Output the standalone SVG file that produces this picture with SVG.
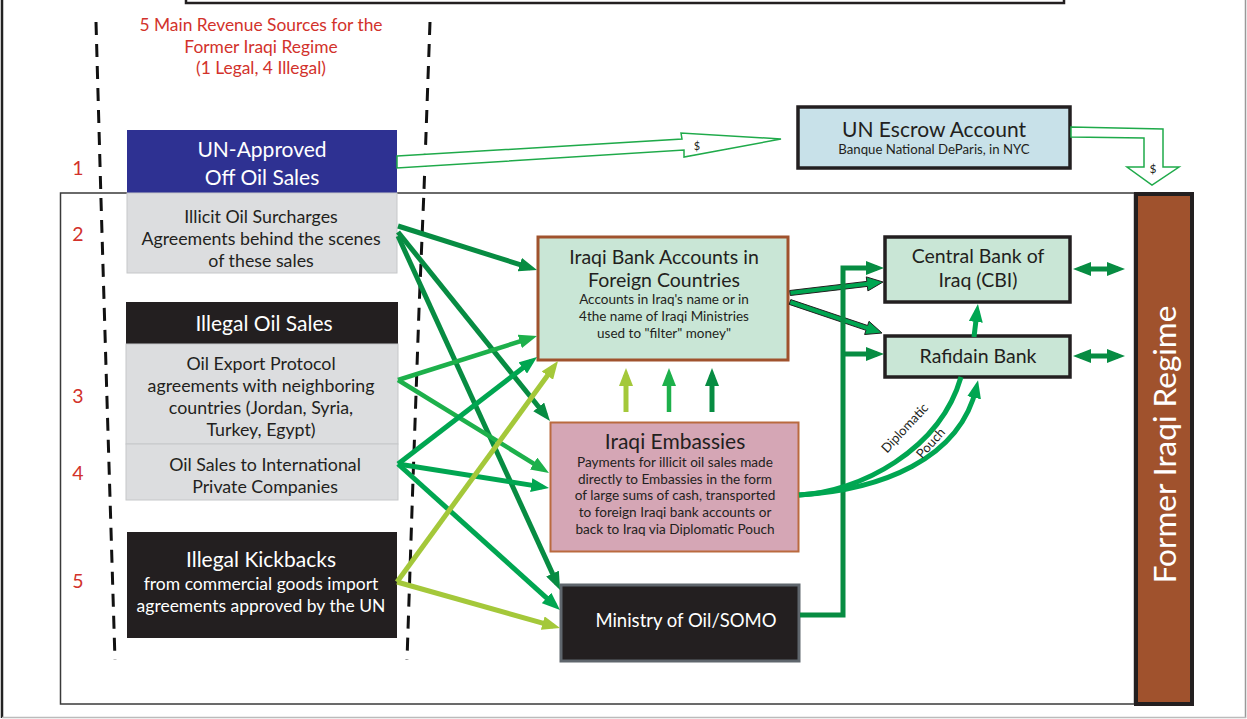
<svg xmlns="http://www.w3.org/2000/svg" width="1247" height="719" viewBox="0 0 1247 719">
<style>
text{font-family:Lato,"Open Sans","Liberation Sans",sans-serif;text-anchor:middle}
.red{fill:#D2322B}
.dk{fill:#231F20}
.wh{fill:#FFFFFF}
.num{font-size:19.5px;fill:#D2322B}
.body{font-size:17.8px;fill:#231F20}
.big{font-size:21px}
.gray{fill:#DCDDDF;stroke:#C6C7C9;stroke-width:1}
.blk{fill:#231F20}
.mint{fill:#C9E6D6}
.dash{fill:none;stroke:#111;stroke-width:3;stroke-dasharray:13 9}
.c-dk{fill:none;stroke:#078C42;stroke-width:5}
.c-md{fill:none;stroke:#00A651;stroke-width:5}
.c-lt{fill:none;stroke:#1DB04B;stroke-width:4.5}
.c-yg{fill:none;stroke:#A4C83A;stroke-width:5}
.hollow{fill:#FFFFFF;stroke:#1FAA4A;stroke-width:1.5}
</style>
<defs>
<marker id="m-dk" viewBox="0 0 18 14" refX="11" refY="7" markerWidth="18" markerHeight="14" markerUnits="userSpaceOnUse" orient="auto-start-reverse"><path d="M0,0 L18,7 L0,14 z" fill="#078C42"/></marker>
<marker id="m-md" viewBox="0 0 18 14" refX="11" refY="7" markerWidth="18" markerHeight="14" markerUnits="userSpaceOnUse" orient="auto"><path d="M0,0 L18,7 L0,14 z" fill="#00A651"/></marker>
<marker id="m-lt" viewBox="0 0 18 14" refX="11" refY="7" markerWidth="18" markerHeight="14" markerUnits="userSpaceOnUse" orient="auto"><path d="M0,0 L18,7 L0,14 z" fill="#1DB04B"/></marker>
<marker id="m-yg" viewBox="0 0 18 14" refX="11" refY="7" markerWidth="18" markerHeight="14" markerUnits="userSpaceOnUse" orient="auto"><path d="M0,0 L18,7 L0,14 z" fill="#A4C83A"/></marker>
</defs>
<rect width="1247" height="719" fill="#FFFFFF"/>
<g id="frame">
<line x1="2" y1="0" x2="2" y2="718" stroke="#222" stroke-width="2.5"/>
<line x1="1245.5" y1="0" x2="1245.5" y2="718" stroke="#999" stroke-width="1.5"/>
<line x1="2" y1="717.5" x2="1246" y2="717.5" stroke="#BBB" stroke-width="1.5"/>
<rect x="186" y="-30" width="878" height="33" fill="none" stroke="#231F20" stroke-width="2.5"/>
<rect x="60.5" y="193" width="1074" height="511" fill="none" stroke="#3A3A3A" stroke-width="1.5"/>
</g>
<g id="title">
<text class="red" font-size="17.4" x="261" y="31">5 Main Revenue Sources for the</text>
<text class="red" font-size="17.4" x="261" y="53">Former Iraqi Regime</text>
<text class="red" font-size="17.4" x="261" y="74">(1 Legal, 4 Illegal)</text>
<text class="num" x="78" y="175">1</text>
<text class="num" x="78" y="241">2</text>
<text class="num" x="78" y="403">3</text>
<text class="num" x="78" y="480">4</text>
<text class="num" x="78" y="588">5</text>
</g>
<g id="dividers">
<path class="dash" d="M96,22 L101,200 L107,400 L115,660"/>
<path class="dash" d="M430,22 L424,190 L419,310 L413,480 L407,660"/>
</g>
<g id="un-approved">
<rect x="127" y="130" width="270" height="63" fill="#2E3192"/>
<text class="wh big" x="262" y="157">UN-Approved</text>
<text class="wh big" x="262" y="185">Off Oil Sales</text>
</g>
<g id="surcharges">
<rect class="gray" x="127" y="193" width="270" height="80"/>
<text class="body" x="261" y="223">Illicit Oil Surcharges</text>
<text class="body" x="261" y="245">Agreements behind the scenes</text>
<text class="body" x="261" y="267">of these sales</text>
</g>
<g id="illegal-oil-sales">
<rect class="blk" x="126" y="302" width="272" height="42"/>
<text class="wh" font-size="21" x="264" y="331">Illegal Oil Sales</text>
</g>
<g id="export-protocol">
<rect class="gray" x="126" y="344" width="272" height="100"/>
<text class="body" x="261" y="370">Oil Export Protocol</text>
<text class="body" x="261" y="392">agreements with neighboring</text>
<text class="body" x="261" y="414">countries (Jordan, Syria,</text>
<text class="body" x="261" y="436">Turkey, Egypt)</text>
</g>
<g id="intl-sales">
<rect class="gray" x="126" y="444" width="272" height="56"/>
<text class="body" x="265" y="471">Oil Sales to International</text>
<text class="body" x="265" y="493">Private Companies</text>
</g>
<g id="kickbacks">
<rect class="blk" x="127" y="532" width="270" height="106"/>
<text class="wh big" x="261" y="567">Illegal Kickbacks</text>
<text class="wh" font-size="17.5" x="261" y="590">from commercial goods import</text>
<text class="wh" font-size="17.5" x="261" y="612">agreements approved by the UN</text>
</g>
<g id="escrow">
<rect x="798" y="107" width="272" height="61" fill="#C8E1E9" stroke="#231F20" stroke-width="3.5"/>
<text class="dk big" x="934" y="137">UN Escrow Account</text>
<text class="dk" font-size="13.2" x="934" y="154">Banque National DeParis, in NYC</text>
</g>
<g id="bank-accounts">
<rect class="mint" x="538" y="237" width="250" height="123" stroke="#A0522D" stroke-width="3"/>
<text class="dk" font-size="19.5" x="664" y="264">Iraqi Bank Accounts in</text>
<text class="dk" font-size="19.5" x="664" y="287">Foreign Countries</text>
<text class="dk" font-size="13.5" x="664" y="304">Accounts in Iraq's name or in</text>
<text class="dk" font-size="13.5" x="664" y="321">4the name of Iraqi Ministries</text>
<text class="dk" font-size="13.5" x="664" y="338">used to "filter" money"</text>
</g>
<g id="embassies">
<rect x="550.5" y="422.5" width="248" height="129" fill="#D5A6B5" stroke="#BA6A3F" stroke-width="2"/>
<text class="dk" font-size="21" x="675" y="448.5">Iraqi Embassies</text>
<text class="dk" font-size="13.6" x="675" y="467">Payments for illicit oil sales made</text>
<text class="dk" font-size="13.6" x="675" y="483.7">directly to Embassies in the form</text>
<text class="dk" font-size="13.6" x="675" y="500.4">of large sums of cash, transported</text>
<text class="dk" font-size="13.6" x="675" y="517.1">to foreign Iraqi bank accounts or</text>
<text class="dk" font-size="13.6" x="675" y="533.8">back to Iraq via Diplomatic Pouch</text>
</g>
<g id="ministry">
<rect x="561" y="585" width="238" height="76" fill="#231F20" stroke="#5F666D" stroke-width="3"/>
<text class="wh" font-size="18.5" x="686" y="627">Ministry of Oil/SOMO</text>
</g>
<g id="central-bank">
<rect class="mint" x="885" y="237" width="185" height="65" stroke="#231F20" stroke-width="3.5"/>
<text class="dk" font-size="19.5" x="978" y="263">Central Bank of</text>
<text class="dk" font-size="19.5" x="978" y="287">Iraq (CBI)</text>
</g>
<g id="rafidain">
<rect class="mint" x="885" y="336" width="185" height="41" stroke="#231F20" stroke-width="3.5"/>
<text class="dk" font-size="19.5" x="978" y="363">Rafidain Bank</text>
</g>
<g id="former-regime">
<rect x="1136" y="194" width="56" height="510" fill="#A0522D" stroke="#231F20" stroke-width="4"/>
<text class="wh" font-size="31.5" transform="translate(1176,444.5) rotate(-90)" x="0" y="0">Former Iraqi Regime</text>
</g>
<g id="connectors">
<polygon class="hollow" points="397,156 682,139 681,133 781,139 684,157 684,150 397,168"/>
<text class="dk" font-size="11" x="697" y="150">$</text>
<polygon class="hollow" points="1071,127 1163,129 1163,167 1179,167 1152,185 1127,167 1144,167 1144,138 1071,137"/>
<text class="dk" font-size="12" x="1153" y="173">$</text>
<line class="c-dk" x1="398" y1="226" x2="530.3" y2="267.9" marker-end="url(#m-dk)"/>
<line class="c-dk" x1="398" y1="232" x2="545.6" y2="415.5" marker-end="url(#m-dk)"/>
<line class="c-dk" x1="398" y1="236" x2="557.1" y2="583.6" marker-end="url(#m-dk)"/>
<line class="c-lt" x1="398" y1="380" x2="530.3" y2="338.1" marker-end="url(#m-lt)"/>
<line class="c-lt" x1="398" y1="380" x2="543" y2="469.3" marker-end="url(#m-lt)"/>
<line class="c-md" x1="398" y1="464" x2="531.5" y2="361.3" marker-end="url(#m-md)"/>
<line class="c-md" x1="398" y1="464" x2="542.1" y2="486.9" marker-end="url(#m-md)"/>
<line class="c-md" x1="398" y1="464" x2="554.8" y2="605.3" marker-end="url(#m-md)"/>
<line class="c-yg" x1="397" y1="582" x2="553.9" y2="366.7" marker-end="url(#m-yg)"/>
<line class="c-yg" x1="397" y1="582" x2="553.3" y2="626.1" marker-end="url(#m-yg)"/>
<line class="c-yg" x1="626" y1="412" x2="626" y2="375" marker-end="url(#m-yg)"/>
<line class="c-lt" x1="669" y1="412" x2="669" y2="375" marker-end="url(#m-lt)"/>
<line class="c-dk" x1="712" y1="412" x2="712" y2="375" marker-end="url(#m-dk)"/>
<polygon points="789.7,290.5 866.8,281.4 866.3,276.9 883,282 867.9,290.9 867.4,286.4 790.3,295.5" fill="#00A651" stroke="#231F20" stroke-width="1"/>
<polygon points="790.8,299.6 867.6,325.5 869,321.3 882,333 864.6,334.5 866,330.3 789.2,304.4" fill="#00A651" stroke="#231F20" stroke-width="1"/>
<path class="c-dk" stroke-linejoin="miter" d="M800,615 H843 V268 H877" marker-end="url(#m-dk)"/>
<path class="c-dk" d="M843,354 H877" marker-end="url(#m-dk)"/>
<line class="c-dk" x1="1080" y1="269" x2="1118" y2="269" marker-start="url(#m-dk)" marker-end="url(#m-dk)"/>
<line class="c-dk" x1="1080" y1="356" x2="1118" y2="356" marker-start="url(#m-dk)" marker-end="url(#m-dk)"/>
<path class="c-md" d="M799,495 C860,492 940,450 961,377"/>
<path class="c-md" d="M799,495 C880,490 960,460 976.5,387" marker-end="url(#m-md)"/>
<path class="c-md" d="M974,337 L977.1,311" marker-end="url(#m-md)"/>
<text class="dk" font-size="13" transform="translate(908,431) rotate(-47)" x="0" y="0">Diplomatic</text>
<text class="dk" font-size="13" transform="translate(934,446) rotate(-48)" x="0" y="0">Pouch</text>
</g>
</svg>
